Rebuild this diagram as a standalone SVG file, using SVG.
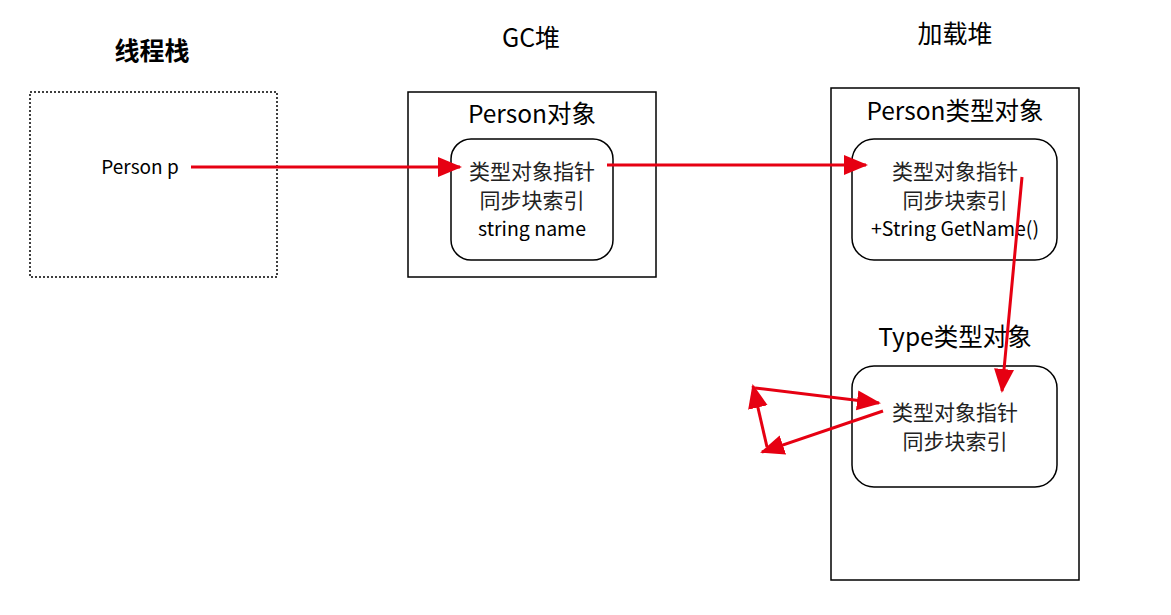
<svg xmlns="http://www.w3.org/2000/svg" width="1171" height="615" viewBox="0 0 1171 615">
<style>
text{font-family:"Noto Sans CJK SC","Noto Sans",sans-serif;fill:#000;text-anchor:middle}
.t{font-size:25px}
.h{font-size:24.5px}
.c{font-size:21px;fill:#222}
.e{font-size:19.5px}
.box{fill:#fff;stroke:#000;stroke-width:1.5}
.rb{fill:#fff;stroke:#000;stroke-width:1.5}
.ln{fill:none;stroke:#e60012;stroke-width:3;marker-end:url(#ah)}
</style>
<defs>
<marker id="ah" markerUnits="userSpaceOnUse" markerWidth="26" markerHeight="22" refX="22" refY="10" orient="auto">
<path d="M0,0 L24,10 L0,20 z" fill="#e60012"/>
</marker>
</defs>
<rect width="1171" height="615" fill="#fff"/>
<g id="stack">
<text class="t" x="152" y="60" font-weight="bold">线程栈</text>
<rect x="30" y="92" width="247" height="185" fill="#fff" stroke="#000" stroke-width="1.5" stroke-dasharray="2,2"/>
<text x="140" y="174" style="font-size:19px">Person p</text>
</g>
<g id="gcheap">
<text class="t" x="531" y="47">GC堆</text>
<rect class="box" x="408" y="92" width="248" height="185"/>
<text class="h" x="532" y="123">Person对象</text>
</g>
<g id="person-obj">
<rect class="rb" x="451" y="139" width="162" height="121" rx="20"/>
<text class="c" x="532" y="179">类型对象指针</text>
<text class="c" x="532" y="208">同步块索引</text>
<text class="e" x="532" y="236">string name</text>
</g>
<g id="loadheap">
<text class="t" x="955" y="43">加载堆</text>
<rect class="box" x="831" y="88" width="248" height="492"/>
<text class="h" x="955" y="120">Person类型对象</text>
<text class="h" x="955" y="346">Type类型对象</text>
</g>
<g id="person-type">
<rect class="rb" x="852" y="139" width="205" height="121" rx="22"/>
<text class="c" x="955" y="179">类型对象指针</text>
<text class="c" x="955" y="208">同步块索引</text>
<text class="e" x="955" y="236">+String GetName()</text>
</g>
<g id="type-type">
<rect class="rb" x="852" y="366" width="205" height="121" rx="22"/>
<text class="c" x="955" y="420">类型对象指针</text>
<text class="c" x="955" y="449">同步块索引</text>
</g>
<g id="connectors">
<line class="ln" x1="191" y1="167" x2="460" y2="167"/>
<line class="ln" x1="607" y1="165" x2="866" y2="165"/>
<line class="ln" x1="1022" y1="177" x2="1002" y2="391"/>
<line class="ln" x1="883" y1="411" x2="762" y2="452"/>
<line class="ln" x1="767" y1="447" x2="753" y2="386"/>
<line class="ln" x1="755" y1="388" x2="879" y2="403"/>
</g>
</svg>
